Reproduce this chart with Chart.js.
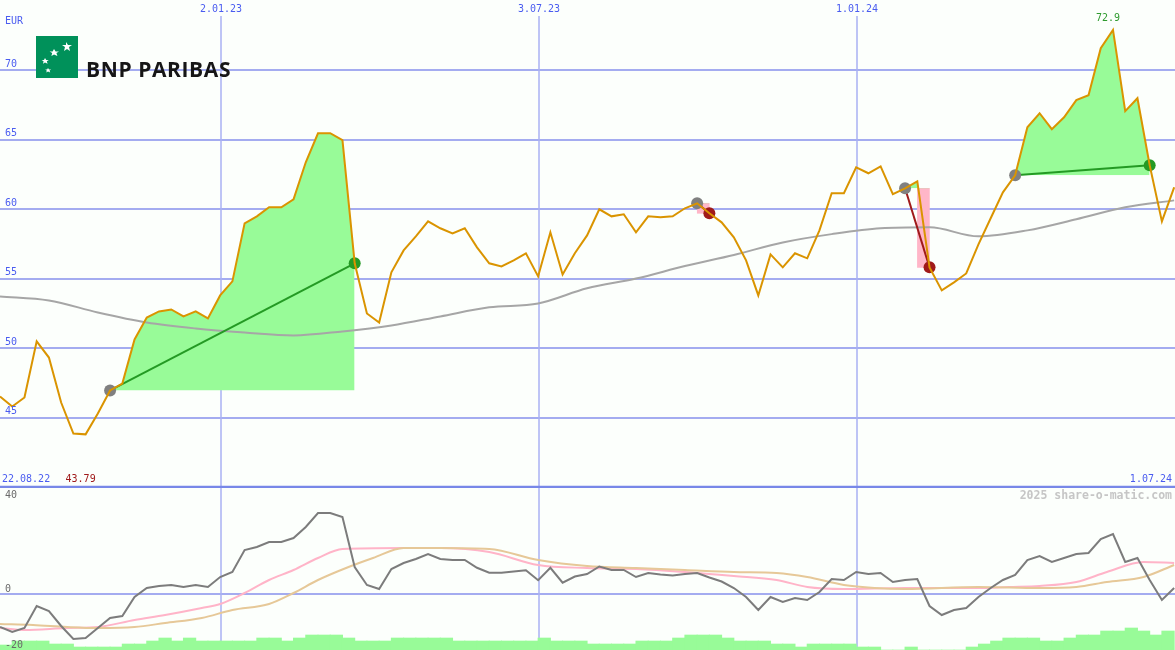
<!DOCTYPE html>
<html>
<head>
<meta charset="utf-8">
<script src="https://cdn.jsdelivr.net/npm/chart.js@4.4.1/dist/chart.umd.min.js"></script>
<style>
  html, body { margin: 0; padding: 0; background: #fcfffc; }
  #wrap { position: relative; width: 1175px; height: 650px; overflow: hidden; background: #fcfffc; }
  #chart-price { position: absolute; left: 0; top: 0; }
  #chart-osc { position: absolute; left: 0; top: 488px; }
  #logo { position: absolute; left: 36px; top: 36px; width: 42px; height: 42px; }
  #brand { position: absolute; left: 86px; top: 59px; font: 700 21px/21px 'Open Sans', sans-serif; letter-spacing: 0.6px; color: #161616; white-space: nowrap; }
</style>
</head>
<body>
<div id="wrap">
  <canvas id="chart-price" width="1175" height="488"></canvas>
  <canvas id="chart-osc" width="1175" height="162"></canvas>
  <svg id="logo" viewBox="0 0 42 42">
    <rect width="42" height="42" fill="#00915a"/>
    <path d="M30 6 l2 3 4 0 -3 2 1 4 -3 -2 -3 2 1 -4 -3 -2 4 0z" fill="#fff"/>
    <path d="M18 13 l1.6 2.4 3.4 0 -2.6 1.6 1 3 -3.4 -1.6 -2.6 1.6 0.8 -3 -2.6 -1.6 3 0z" fill="#fff"/>
    <path d="M9 22 l1.2 2 2.6 0 -2 1.3 0.8 2.5 -2.6 -1.4 -2 1.4 0.6 -2.5 -2 -1.3 2.4 0z" fill="#fff"/>
    <path d="M12 32 l1 1.6 2.2 0 -1.7 1 0.7 2 -2.2 -1.1 -1.7 1.1 0.5 -2 -1.7 -1 2 0z" fill="#fff"/>
  </svg>
  <div id="brand">BNP PARIBAS</div>
</div>
<script>
// ===== 周线数据（x = 周序号，0 = 图左边缘）=====
const PRICE = [
  46.51, 45.79, 46.44, 50.48, 49.32, 46.08, 43.85, 43.79, 45.29, 46.95,
  47.45, 50.62, 52.20, 52.64, 52.78, 52.28, 52.64, 52.13, 53.79, 54.80,
  58.98, 59.48, 60.13, 60.13, 60.71, 63.37, 65.46, 65.46, 64.96, 56.10,
  52.49, 51.84, 55.45, 57.03, 58.04, 59.12, 58.62, 58.26, 58.62, 57.25,
  56.10, 55.88, 56.31, 56.82, 55.16, 58.33, 55.30, 56.82, 58.11, 59.99,
  59.48, 59.63, 58.33, 59.48, 59.41, 59.48, 60.06, 60.42, 59.70, 59.05,
  57.97, 56.31, 53.79, 56.74, 55.81, 56.82, 56.46, 58.47, 61.14, 61.14,
  63.01, 62.58, 63.08, 61.07, 61.50, 62.00, 55.81, 54.15, 54.73, 55.37,
  57.46, 59.34, 61.21, 62.44, 65.89, 66.90, 65.75, 66.61, 67.84, 68.20,
  71.58, 72.90, 67.05, 67.98, 63.16, 59.12, 61.57
];

// 灰色均线
const MA_WEEKS  = [0, 4, 8, 12, 16, 20, 24, 28, 32, 36, 40, 44, 48, 52, 56, 60, 64, 68, 72, 76, 80, 84, 88, 92, 96];
const MA_VALUES = [53.72, 53.43, 52.56, 51.84, 51.41, 51.12, 50.91, 51.20, 51.63, 52.28, 52.93, 53.21, 54.30,
                   55.00, 55.90, 56.70, 57.60, 58.20, 58.62, 58.69, 58.04, 58.47, 59.27, 60.13, 60.63];

// 买入 / 卖出（周序号）
const TRADE_BUY  = [9, 57, 74, 83];
const TRADE_SELL = [29, 58, 76, 94];

// 下方指标：动量线（每周）
const OSC = [
  -13.2, -15.2, -13.6, -4.8, -6.8, -12.8, -18.0, -17.6, -13.6, -9.6,
  -8.8, -1.2, 2.4, 3.2, 3.6, 2.8, 3.6, 2.8, 6.8, 8.8,
  17.6, 18.8, 20.8, 20.8, 22.4, 26.8, 32.4, 32.4, 30.8, 10.8,
  3.6, 2.0, 10.0, 12.4, 14.0, 16.0, 14.0, 13.6, 13.6, 10.5,
  8.5, 8.5, 9.0, 9.5, 5.5, 10.5, 4.5, 7.0, 8.0, 11.0,
  9.6, 9.6, 6.8, 8.4, 7.8, 7.4, 8.0, 8.4, 6.6, 5.0,
  2.4, -1.2, -6.4, -1.2, -3.2, -1.6, -2.4, 0.8, 6.0, 5.6,
  8.8, 8.0, 8.4, 4.8, 5.6, 6.0, -4.8, -8.4, -6.4, -5.6,
  -1.2, 2.4, 5.6, 7.6, 13.6, 15.2, 12.8, 14.4, 16.0, 16.4,
  22.0, 24.0, 12.8, 14.4, 5.6, -2.4, 2.4
];

// 粉色信号线
const SIG_WEEKS  = [0, 2, 5.5, 8, 11, 13.5, 16.5, 18, 20, 22, 24, 26, 28, 33, 36, 40, 44, 48, 52, 56, 60, 63.5, 66, 69, 74, 80, 82.5, 85, 88, 90.5, 93.5, 96];
const SIG_VALUES = [-13.6, -14.4, -13.6, -13.2, -10.4, -8.4, -5.6, -4.0, 0.4, 5.6, 9.6, 14.4, 18.0, 18.4, 18.4, 16.8,
                    11.6, 10.4, 10.0, 8.8, 7.2, 5.6, 2.8, 2.0, 2.4, 2.4, 2.8, 3.2, 4.8, 8.8, 12.8, 12.4];

// 浅棕慢线
const SLOW_WEEKS  = [0, 2.7, 5.5, 8, 11, 13.5, 16.5, 19, 22, 24, 26, 28.5, 30.5, 33, 36, 40, 44, 48, 52, 56, 60, 63.5, 66, 69, 71.5, 74, 80, 85, 88, 90.5, 93.5, 96];
const SLOW_VALUES = [-12.0, -12.4, -13.2, -13.6, -13.2, -11.6, -9.6, -6.4, -4.0, 0.4, 5.6, 10.8, 14.4, 18.4, 18.4, 18.0,
                     13.6, 11.2, 10.4, 9.6, 8.8, 8.4, 6.8, 3.6, 2.4, 2.0, 2.8, 2.4, 2.8, 4.8, 6.8, 11.6];

// 成交量（每周一根）
const VOLUME = [
  5, 9, 9, 9, 6, 6, 3, 3, 3, 3,
  6, 6, 9, 12, 9, 12, 9, 9, 9, 9,
  9, 12, 12, 9, 12, 15, 15, 15, 12, 9,
  9, 9, 12, 12, 12, 12, 12, 9, 9, 9,
  9, 9, 9, 9, 12, 9, 9, 9, 6, 6,
  6, 6, 9, 9, 9, 12, 15, 15, 15, 12,
  9, 9, 9, 6, 6, 3, 6, 6, 6, 6,
  3, 3, 0, 0, 3, 0, 0, 0, 0, 3,
  6, 9, 12, 12, 12, 9, 9, 12, 15, 15,
  19, 19, 22, 19, 15, 19
];

// 刻度与标签
const X_MAX = 96.07;
const DATE_TICKS  = [18.07, 44.07, 70.07];
const DATE_LABELS = ['2.01.23', '3.07.23', '1.01.24'];
const FIRST_DATE = '22.08.22';
const LAST_DATE  = '1.07.24';
const PRICE_TICKS = [45, 50, 55, 60, 65, 70];
const OSC_TICKS = [40, 0, -20];

// ===== 颜色 =====
const COLOR_HGRID = '#a4acf0';
const COLOR_VGRID = '#a9b1f3';
const COLOR_SEP = '#7888e8';
const COLOR_LABEL = '#4a5cf0';
const COLOR_PRICE = '#da9400';
const COLOR_MA = '#a6a6a6';
const COLOR_GAIN = '#98fb98';
const COLOR_LOSS = '#ffb6c8';
const COLOR_WIN_LINE = '#249a24';
const COLOR_LOSS_LINE = '#a01a1a';
const COLOR_BUY = '#808080';
const COLOR_OSC = '#7c7c7c';
const COLOR_SIG = '#ffb4c8';
const COLOR_SLOW = '#e6c898';
const FONT_LABEL = '10px "DejaVu Sans Mono", monospace';

Chart.defaults.animation = false;

function xy(xs, ys) {
  return xs.map((x, i) => ({ x: x, y: ys[i] }));
}

// ===== 垂直日期线 =====
function drawDateLines(chart, top) {
  const { ctx, chartArea, scales } = chart;
  ctx.save();
  ctx.strokeStyle = COLOR_VGRID;
  ctx.lineWidth = 1.5;
  DATE_TICKS.forEach(v => {
    const x = scales.x.getPixelForValue(v);
    ctx.beginPath();
    ctx.moveTo(x, top);
    ctx.lineTo(x, chartArea.bottom);
    ctx.stroke();
  });
  ctx.restore();
}

// ===== 上图：股价 + 均线 + 交易 =====
const priceDecor = {
  id: 'priceDecor',
  beforeDatasetsDraw(chart) {
    drawDateLines(chart, 16);
  },
  afterDraw(chart) {
    const { ctx, chartArea, scales } = chart;
    ctx.save();
    // 面板分隔线
    ctx.strokeStyle = COLOR_SEP;
    ctx.lineWidth = 2.5;
    ctx.beginPath();
    ctx.moveTo(0, chartArea.bottom - 1);
    ctx.lineTo(chartArea.right, chartArea.bottom - 1);
    ctx.stroke();

    ctx.font = FONT_LABEL;
    ctx.textBaseline = 'middle';
    ctx.fillStyle = COLOR_LABEL;
    ctx.textAlign = 'left';
    ctx.fillText('EUR', 5, 21);
    PRICE_TICKS.forEach(v => ctx.fillText(String(v), 5, scales.y.getPixelForValue(v) - 6));
    ctx.fillText(FIRST_DATE, 2, 479);
    ctx.textAlign = 'center';
    DATE_TICKS.forEach((v, i) => ctx.fillText(DATE_LABELS[i], scales.x.getPixelForValue(v), 9));
    ctx.textAlign = 'right';
    ctx.fillText(LAST_DATE, 1172, 479);

    // 最高 / 最低
    const maxV = Math.max(...PRICE), minV = Math.min(...PRICE);
    const maxI = PRICE.indexOf(maxV), minI = PRICE.indexOf(minV);
    ctx.textAlign = 'center';
    ctx.fillStyle = '#2e9a2e';
    ctx.fillText(maxV.toFixed(1), scales.x.getPixelForValue(maxI) - 5, scales.y.getPixelForValue(maxV) - 11);
    ctx.fillStyle = '#a01a1a';
    ctx.fillText(minV.toFixed(2), scales.x.getPixelForValue(minI) - 5, 479);
    ctx.restore();
  }
};

function buildTradeDatasets() {
  const sets = [];
  TRADE_BUY.forEach((b, k) => {
    const s = TRADE_SELL[k];
    const win = PRICE[s] >= PRICE[b];
    const idx = [];
    for (let i = b; i <= s; i++) idx.push(i);
    // 盈利区域：股价高于买入价
    sets.push({
      type: 'line',
      data: idx.map(i => ({ x: i, y: PRICE[i] })),
      borderWidth: 0,
      pointRadius: 0,
      fill: { target: { value: PRICE[b] }, above: COLOR_GAIN, below: 'rgba(0,0,0,0)' },
      order: 4
    });
    // 买卖连线
    sets.push({
      type: 'line',
      data: [{ x: b, y: PRICE[b] }, { x: s, y: PRICE[s] }],
      borderColor: win ? COLOR_WIN_LINE : COLOR_LOSS_LINE,
      borderWidth: 2,
      pointRadius: 6,
      pointBorderWidth: 0,
      pointBackgroundColor: [COLOR_BUY, win ? COLOR_WIN_LINE : COLOR_LOSS_LINE],
      fill: false,
      order: 1
    });
  });
  // 亏损区块（最后一周，从买入价到卖出价）
  const lossBars = [];
  TRADE_BUY.forEach((b, k) => {
    const s = TRADE_SELL[k];
    if (PRICE[s] < PRICE[b]) lossBars.push({ x: s - 0.5, y: [PRICE[s], PRICE[b]] });
  });
  sets.push({
    type: 'bar',
    data: lossBars,
    backgroundColor: COLOR_LOSS,
    barThickness: 12,
    grouped: false,
    order: 5
  });
  return sets;
}

function renderPriceChart() {
  const ctx = document.getElementById('chart-price').getContext('2d');
  return new Chart(ctx, {
    type: 'line',
    data: {
      datasets: [
        {
          label: 'Kurs',
          data: PRICE.map((v, i) => ({ x: i, y: v })),
          borderColor: COLOR_PRICE,
          borderWidth: 2,
          pointRadius: 0,
          tension: 0,
          fill: false,
          order: 0
        },
        {
          label: 'Durchschnitt',
          data: xy(MA_WEEKS, MA_VALUES),
          borderColor: COLOR_MA,
          borderWidth: 2,
          pointRadius: 0,
          cubicInterpolationMode: 'monotone',
          fill: false,
          order: 3
        },
        ...buildTradeDatasets()
      ]
    },
    options: {
      responsive: false,
      layout: { padding: 0, autoPadding: false },
      plugins: { legend: { display: false }, tooltip: { enabled: false } },
      scales: {
        x: { type: 'linear', min: 0, max: X_MAX, offset: false, display: false },
        y: {
          type: 'linear', min: 39.93, max: 75.05,
          afterBuildTicks: (s) => { s.ticks = PRICE_TICKS.map(v => ({ value: v })); },
          grid: { color: COLOR_HGRID, lineWidth: 2, drawTicks: false },
          border: { display: false },
          ticks: { display: false }
        }
      }
    },
    plugins: [priceDecor]
  });
}

// ===== 下图：动量指标 + 成交量 =====
const oscDecor = {
  id: 'oscDecor',
  beforeDatasetsDraw(chart) {
    drawDateLines(chart, 0);
  },
  afterDraw(chart) {
    const { ctx, scales } = chart;
    ctx.save();
    ctx.font = FONT_LABEL;
    ctx.textBaseline = 'middle';
    ctx.textAlign = 'left';
    ctx.fillStyle = '#6a6a6a';
    OSC_TICKS.forEach(v => ctx.fillText(String(v), 5, scales.y.getPixelForValue(v) + (v === 0 ? -5 : 1)));
    ctx.font = 'bold 11.5px "DejaVu Sans Mono", monospace';
    ctx.fillStyle = '#c6c6c6';
    ctx.textAlign = 'right';
    ctx.fillText('2025 share-o-matic.com', 1172, 8);
    ctx.restore();
  }
};

function renderOscChart() {
  const ctx = document.getElementById('chart-osc').getContext('2d');
  return new Chart(ctx, {
    type: 'line',
    data: {
      datasets: [
        {
          data: OSC.map((v, i) => ({ x: i, y: v })),
          borderColor: COLOR_OSC,
          borderWidth: 2,
          pointRadius: 0,
          fill: false,
          order: 0
        },
        {
          data: xy(SIG_WEEKS, SIG_VALUES),
          borderColor: COLOR_SIG,
          borderWidth: 2,
          pointRadius: 0,
          cubicInterpolationMode: 'monotone',
          fill: false,
          order: 2
        },
        {
          data: xy(SLOW_WEEKS, SLOW_VALUES),
          borderColor: COLOR_SLOW,
          borderWidth: 2,
          pointRadius: 0,
          cubicInterpolationMode: 'monotone',
          fill: false,
          order: 1
        },
        {
          type: 'bar',
          data: VOLUME.map((v, i) => ({ x: i + 0.5, y: v })),
          yAxisID: 'yVol',
          backgroundColor: COLOR_GAIN,
          barThickness: 12.6,
          order: 3
        }
      ]
    },
    options: {
      responsive: false,
      layout: { padding: 0, autoPadding: false },
      plugins: { legend: { display: false }, tooltip: { enabled: false } },
      scales: {
        x: { type: 'linear', min: 0, max: X_MAX, offset: false, display: false },
        y: {
          type: 'linear', min: -22.4, max: 42.4,
          afterBuildTicks: (s) => { s.ticks = [{ value: 0 }]; },
          grid: { color: COLOR_HGRID, lineWidth: 2, drawTicks: false },
          border: { display: false },
          ticks: { display: false }
        },
        yVol: { type: 'linear', min: 0, max: 162, display: false }
      }
    },
    plugins: [oscDecor]
  });
}

// ===== 入口 =====
renderPriceChart();
renderOscChart();
</script>
</body>
</html>
